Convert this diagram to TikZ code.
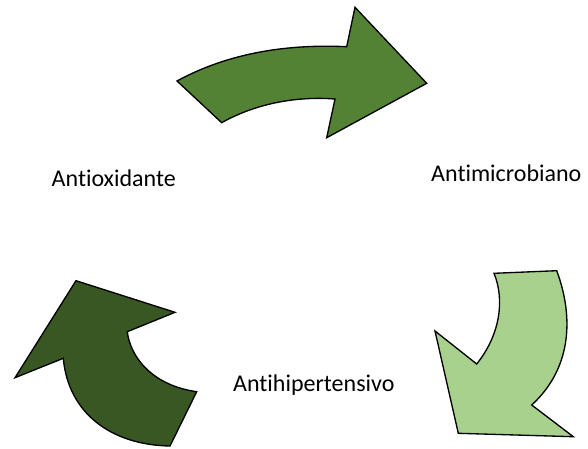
\documentclass[tikz,border=0pt]{standalone}
\usepackage{fontspec}
\setmainfont{Carlito}[Ligatures={NoCommon}]
\definecolor{gmid}{HTML}{548235}
\definecolor{glight}{HTML}{A9D18E}
\definecolor{gdark}{HTML}{385723}
\tikzset{
  bigarrow/.style={draw=black, line width=1pt, line join=miter},
  lbl/.style={anchor=base, inner sep=0pt, font=\fontsize{18}{21}\selectfont}
}
\begin{document}
\begin{tikzpicture}[x=0.75pt,y=-0.75pt]
\useasboundingbox (0,0) rectangle (588,449);
% top arrow
\path[bigarrow, fill=gmid] (177,81) .. controls (230,52) and (290,44) .. (346.7,46.7)
  -- (355,7.3) -- (426.7,83.3) -- (326.7,137.7) -- (335,99)
  .. controls (295,96) and (255,104) .. (221.7,122.7) -- cycle;
% right arrow
\path[bigarrow, fill=glight] (494,273.3) -- (556.7,270.7)
  .. controls (575,320) and (570,370) .. (531.7,405)
  -- (573.3,436.7) -- (458.3,433.3) -- (435,331) -- (476.7,364)
  .. controls (500,335) and (505,300) .. (494,273.3) -- cycle;
% left arrow
\path[bigarrow, fill=gdark] (76,280.7) -- (175,312.3) -- (127.3,331.7)
  .. controls (130,355) and (150,385) .. (196.7,391.7)
  -- (170,446) .. controls (110,445) and (68,412) .. (63.3,358.3)
  -- (15,377.7) -- cycle;
\node[lbl] (ox) at (113.8,186) {Antioxidante};
\node[lbl] (mi) at (506.3,181) {Antimicrobiano};
\node[lbl] (hi) at (313.8,391) {Antihipertensivo};
\end{tikzpicture}
\end{document}
